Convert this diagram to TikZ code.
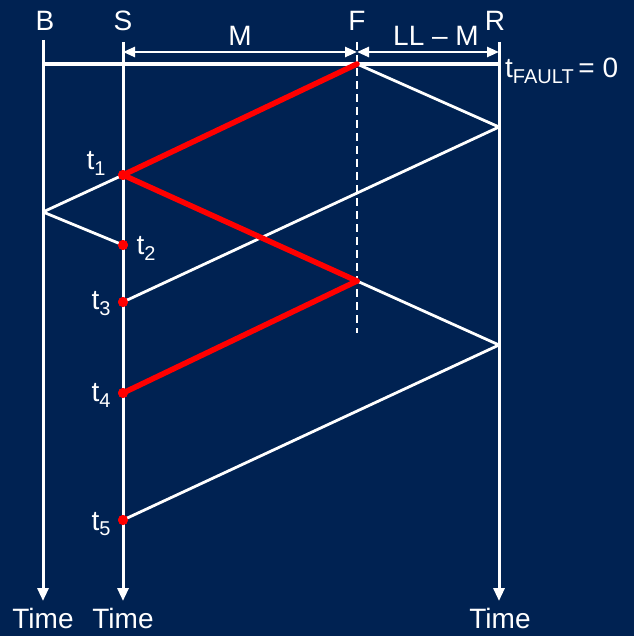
\documentclass[tikz,border=0pt]{standalone}
\usepackage{fontspec}
\setmainfont{Liberation Sans}
\usetikzlibrary{arrows.meta}
\definecolor{bg}{RGB}{0,34,82}
\definecolor{sigred}{RGB}{255,0,0}
\newcommand\tsub[2]{#1\raisebox{-0.4ex}{\fontsize{20}{20}\selectfont #2}}
\begin{document}
\begin{tikzpicture}[x=1pt,y=-1pt,
  lbl/.style={text=white,font=\fontsize{28}{28}\selectfont,inner sep=0pt},
  axis/.style={white,line width=3pt,-{Triangle[length=13pt,width=11pt]}},
  wave/.style={white,line width=2.8pt},
  redwave/.style={sigred,line width=5.5pt,line cap=round},
  dimarrow/.style={white,line width=2.5pt,{Triangle[length=12pt,width=10pt]}-{Triangle[length=12pt,width=10pt]}},
  evt/.style={circle,fill=sigred,inner sep=0pt,minimum size=10pt}]
\fill[bg] (0,0) rectangle (634,636);
\useasboundingbox (0,0) rectangle (634,636);
% coordinates
\coordinate (Btop) at (43,40);
\coordinate (Stop) at (123,42);
\coordinate (Rtop) at (499,42);
\coordinate (Ftop) at (357,42);
\coordinate (Fend) at (357,333);
\coordinate (Bbot) at (43,601);
\coordinate (Sbot) at (123,601);
\coordinate (Rbot) at (499,601);
\coordinate (B0) at (43,64);
\coordinate (R0) at (499,64);
\coordinate (F0) at (357,64);
\coordinate (F1) at (357,281);
\coordinate (R1) at (499,127);
\coordinate (R2) at (499,345);
\coordinate (B1) at (43,212);
\coordinate (DS) at (123,52);
\coordinate (DF) at (357,52);
\coordinate (DR) at (499,52);
% axes
\draw[axis] (Btop) -- (Bbot);
\draw[axis] (Stop) -- (Sbot);
\draw[axis] (Rtop) -- (Rbot);
\draw[white,line width=2.5pt,dash pattern=on 8pt off 5pt] (Ftop) -- (Fend);
\draw[white,line width=4pt] (B0) -- (R0);
\draw[dimarrow] (DS) -- (DF);
\draw[dimarrow] (DF) -- (DR);
% events
\node[evt] (t1) at (123,175) {};
\node[evt] (t2) at (123,245) {};
\node[evt] (t3) at (123,302) {};
\node[evt] (t4) at (123,393) {};
\node[evt] (t5) at (123,520) {};
% waves
\draw[wave] (F0) -- (R1);
\draw[wave] (R1) -- (t3.center);
\draw[wave] (t1.center) -- (B1);
\draw[wave] (B1) -- (t2.center);
\draw[wave] (F1) -- (R2);
\draw[wave] (R2) -- (t5.center);
\draw[redwave] (F0) -- (t1.center);
\draw[redwave] (t1.center) -- (F1);
\draw[redwave] (F1) -- (t4.center);
\node[evt] at (t1) {};
\node[evt] at (t2) {};
\node[evt] at (t3) {};
\node[evt] at (t4) {};
\node[evt] at (t5) {};
% labels
\node[lbl] (lB) at (45,21) {B};
\node[lbl] (lS) at (123,21) {S};
\node[lbl] (lF) at (357,21) {F};
\node[lbl] (lR) at (495,21) {R};
\node[lbl] (lM) at (240,36) {M};
\node[lbl] (lLL) at (436,36) {LL – M};
\node[lbl,anchor=west] (lTF) at (505,71) {\tsub{t}{FAULT}\,= 0};
\node[lbl] (l1) at (96,163) {\tsub{t}{1}};
\node[lbl] (l2) at (146,248) {\tsub{t}{2}};
\node[lbl] (l3) at (101,304) {\tsub{t}{3}};
\node[lbl] (l4) at (101,395) {\tsub{t}{4}};
\node[lbl] (l5) at (101,524) {\tsub{t}{5}};
\node[lbl] (T1) at (43,618) {Time};
\node[lbl] (T2) at (123,618) {Time};
\node[lbl] (T3) at (500,618) {Time};
\end{tikzpicture}
\end{document}
